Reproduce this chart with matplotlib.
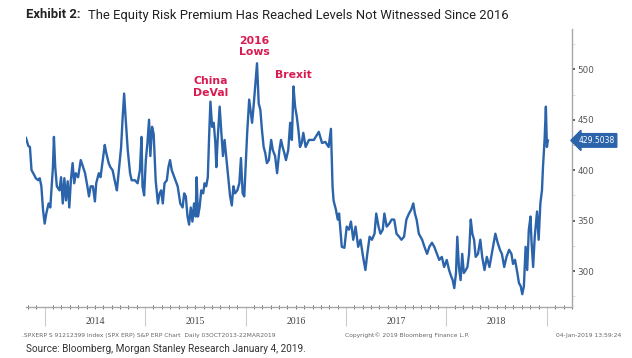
import numpy as np
import matplotlib
matplotlib.use("Agg")
import matplotlib.pyplot as plt
import matplotlib.transforms as mtransforms

# S&P 500 equity risk premium (bp)
# x = decimal year, y = ERP
years = [
    2013.814, 2013.837, 2013.853, 2013.869, 2013.886, 2013.912, 2013.935, 2013.951,
    2013.967, 2013.984, 2014.000, 2014.016, 2014.039, 2014.056, 2014.065, 2014.082,
    2014.092, 2014.105, 2014.121, 2014.147, 2014.163, 2014.180, 2014.196, 2014.212,
    2014.229, 2014.245, 2014.261, 2014.278, 2014.294, 2014.310, 2014.333, 2014.359,
    2014.376, 2014.402, 2014.425, 2014.441, 2014.458, 2014.480, 2014.500, 2014.513,
    2014.539, 2014.556, 2014.578, 2014.598, 2014.611, 2014.637, 2014.654, 2014.676,
    2014.703, 2014.719, 2014.742, 2014.761, 2014.775, 2014.791, 2014.807, 2014.827,
    2014.850, 2014.866, 2014.899, 2014.925, 2014.948, 2014.964, 2014.974, 2014.990,
    2015.007, 2015.023, 2015.039, 2015.052, 2015.069, 2015.085, 2015.095, 2015.105,
    2015.127, 2015.144, 2015.160, 2015.176, 2015.193, 2015.216, 2015.232, 2015.248,
    2015.265, 2015.291, 2015.324, 2015.350, 2015.373, 2015.389, 2015.405, 2015.422,
    2015.438, 2015.454, 2015.471, 2015.487, 2015.503, 2015.513, 2015.526, 2015.542,
    2015.559, 2015.578, 2015.592, 2015.608, 2015.624, 2015.637, 2015.650, 2015.667,
    2015.683, 2015.699, 2015.709, 2015.722, 2015.742, 2015.755, 2015.775, 2015.791,
    2015.807, 2015.830, 2015.846, 2015.863, 2015.879, 2015.895, 2015.918, 2015.938,
    2015.954, 2015.971, 2015.987, 2016.003, 2016.016, 2016.036, 2016.049, 2016.065,
    2016.082, 2016.098, 2016.114, 2016.131, 2016.147, 2016.163, 2016.180, 2016.196,
    2016.212, 2016.232, 2016.255, 2016.271, 2016.294, 2016.314, 2016.337, 2016.353,
    2016.369, 2016.386, 2016.402, 2016.425, 2016.444, 2016.461, 2016.477, 2016.493,
    2016.510, 2016.526, 2016.542, 2016.559, 2016.575, 2016.598, 2016.631, 2016.680,
    2016.729, 2016.761, 2016.794, 2016.827, 2016.850, 2016.866, 2016.876, 2016.899,
    2016.918, 2016.931, 2016.958, 2016.984, 2017.007, 2017.029, 2017.049, 2017.072,
    2017.095, 2017.121, 2017.144, 2017.170, 2017.193, 2017.212, 2017.235, 2017.258,
    2017.284, 2017.301, 2017.324, 2017.343, 2017.366, 2017.382, 2017.405, 2017.431,
    2017.454, 2017.480, 2017.503, 2017.529, 2017.552, 2017.578, 2017.601, 2017.627,
    2017.650, 2017.670, 2017.686, 2017.703, 2017.725, 2017.758, 2017.781, 2017.807,
    2017.830, 2017.856, 2017.879, 2017.905, 2017.928, 2017.954, 2017.977, 2018.003,
    2018.026, 2018.046, 2018.062, 2018.078, 2018.095, 2018.108, 2018.124, 2018.141,
    2018.157, 2018.173, 2018.193, 2018.209, 2018.225, 2018.242, 2018.258, 2018.275,
    2018.291, 2018.314, 2018.337, 2018.356, 2018.379, 2018.402, 2018.428, 2018.451,
    2018.471, 2018.487, 2018.510, 2018.533, 2018.552, 2018.575, 2018.598, 2018.624,
    2018.647, 2018.663, 2018.683, 2018.706, 2018.722, 2018.739, 2018.755, 2018.771,
    2018.788, 2018.804, 2018.820, 2018.837, 2018.846, 2018.863, 2018.879, 2018.902,
    2018.918, 2018.935, 2018.951, 2018.961, 2018.977, 2018.990, 2019.000, 2019.010,
]
erp = [
    432, 424, 423, 400, 397, 392, 390, 392,
    384, 360, 347, 357, 367, 363, 377, 403,
    433, 403, 384, 380, 393, 367, 392, 370,
    389, 363, 390, 407, 387, 397, 393, 410,
    405, 397, 384, 374, 384, 384, 369, 387,
    397, 393, 410, 425, 418, 407, 403, 400,
    387, 380, 403, 423, 450, 476, 450, 420,
    397, 390, 390, 387, 400, 433, 384, 375,
    410, 427, 450, 414, 443, 436, 413, 390,
    367, 377, 380, 367, 387, 390, 403, 410,
    400, 393, 384, 367, 363, 377, 374, 354,
    346, 363, 349, 367, 354, 393, 354, 363,
    380, 377, 387, 384, 393, 433, 468, 443,
    447, 427, 403, 430, 463, 443, 414, 430,
    414, 390, 374, 365, 384, 377, 380, 387,
    412, 377, 374, 410, 437, 470, 460, 447,
    466, 486, 506, 466, 460, 440, 423, 417,
    407, 410, 430, 420, 414, 397, 420, 430,
    423, 417, 410, 420, 447, 430, 483, 463,
    453, 440, 423, 427, 437, 423, 430, 430,
    438, 427, 428, 423, 441, 384, 370, 361,
    351, 357, 324, 323, 344, 341, 349, 331,
    344, 324, 331, 314, 301, 317, 334, 331,
    337, 357, 344, 337, 341, 357, 344, 347,
    351, 351, 337, 334, 331, 334, 351, 357,
    361, 367, 357, 351, 337, 331, 324, 317,
    324, 328, 324, 317, 311, 314, 304, 311,
    301, 295, 291, 283, 298, 334, 304, 291,
    317, 298, 301, 304, 317, 351, 337, 331,
    314, 317, 331, 314, 301, 314, 304, 317,
    328, 337, 328, 321, 317, 304, 314, 321,
    317, 307, 311, 298, 288, 285, 277, 285,
    324, 301, 341, 354, 331, 304, 334, 359,
    331, 367, 380, 403, 430, 463, 423, 429.5038,
]
last_value = "429.5038"

year_labels = ["2014", "2015", "2016", "2017", "2018"]
year_edges = [2014, 2015, 2016, 2017, 2018, 2019]
y_major = [300, 350, 400, 450, 500]
y_minor = [275, 325, 375, 425, 475, 525]

events = ["China\nDeVal", "2016\nLows", "Brexit"]
event_x = [2015.657, 2016.088, 2016.480]
event_y = [482.5, 522.5, 494.3]

line_color = "#2b64aa"
red = "#d81b50"

W, H = 632, 358
fig = plt.figure(figsize=(W / 100, H / 100), dpi=100)
ax = fig.add_axes([25.6 / W, 1 - 307 / H, (572 - 25.6) / W, (307 - 29) / H])

ax.plot(years, erp, color=line_color, lw=1.7, solid_joinstyle="round")

ax.set_xlim(2013.81, 2019.167)
ax.set_ylim(264.3, 540)

# spines
for s in ["top", "left"]:
    ax.spines[s].set_visible(False)
ax.spines["right"].set_color("#a8a8a8")
ax.spines["bottom"].set_color("#a8a8a8")
ax.spines["right"].set_linewidth(1.0)
ax.spines["bottom"].set_linewidth(1.0)

# y axis on the right
ax.yaxis.tick_right()
ax.set_yticks(y_major)
ax.set_yticks(y_minor, minor=True)
ax.set_yticklabels([str(v) for v in y_major])
ax.tick_params(axis="y", which="major", length=2.5, width=1.2, color="#444444",
               labelsize=6.3, labelcolor="#555555", pad=1.5)
ax.tick_params(axis="y", which="minor", length=2, width=0.6, color="#d5d5d5")

# x axis: year separators + monthly minor ticks
ax.set_xticks(year_edges)
ax.set_xticklabels([])
months = np.arange(2013 + 10 / 12, 2019 + 3 / 12, 1 / 12)
ax.set_xticks(months, minor=True)
ax.tick_params(axis="x", which="major", length=14, width=0.8, color="#cccccc",
               direction="out")
ax.tick_params(axis="x", which="minor", length=3, width=0.6, color="#555555",
               direction="inout")

trans = mtransforms.blended_transform_factory(ax.transData, fig.transFigure)
for lab, e in zip(year_labels, year_edges):
    ax.text(e + 0.5, 1 - 322 / H, lab, transform=trans, ha="center", va="center",
            fontsize=7, color="#444444", family="Liberation Serif")

# event annotations
for lab, x, y in zip(events, event_x, event_y):
    ax.text(x, y, lab, ha="center", va="center", fontsize=7.8, color=red,
            fontweight="bold", family="DejaVu Sans", linespacing=1.15)

# last value tag
tag_trans = mtransforms.blended_transform_factory(ax.transAxes, ax.transData)
ax.annotate(last_value, xy=(1.0, erp[-1]), xycoords=tag_trans,
            xytext=(4.5, 0), textcoords="offset points", ha="left", va="center",
            fontsize=5.5, color="white",
            bbox=dict(boxstyle="larrow,pad=0.3", fc=line_color, ec=line_color))

# title
fig.text(26 / W, 1 - 15 / H, "Exhibit 2:", fontsize=9.4, fontweight="bold",
         family="Roboto", color="#222222", va="center", ha="left")
fig.text(88 / W, 1 - 15 / H,
         "The Equity Risk Premium Has Reached Levels Not Witnessed Since 2016",
         fontsize=9.4, family="Roboto", color="#222222", va="center", ha="left")

# footer
fig.text(22 / W, 1 - 335 / H,
         ".SPXERP S 91212399 Index (SPX ERP) S&P ERP Chart  Daily 03OCT2013-22MAR2019",
         fontsize=4.3, color="#666666", va="center", ha="left")
fig.text(345 / W, 1 - 335 / H, "Copyright\u00a9 2019 Bloomberg Finance L.P.",
         fontsize=4.3, color="#666666", va="center", ha="left")
fig.text(556 / W, 1 - 335 / H, "04-Jan-2019 13:59:24",
         fontsize=4.3, color="#666666", va="center", ha="left")
fig.text(26 / W, 1 - 349 / H,
         "Source: Bloomberg, Morgan Stanley Research January 4, 2019.",
         fontsize=7.2, family="Roboto", color="#333333", va="center", ha="left")

fig.savefig("out.png", dpi=100)
